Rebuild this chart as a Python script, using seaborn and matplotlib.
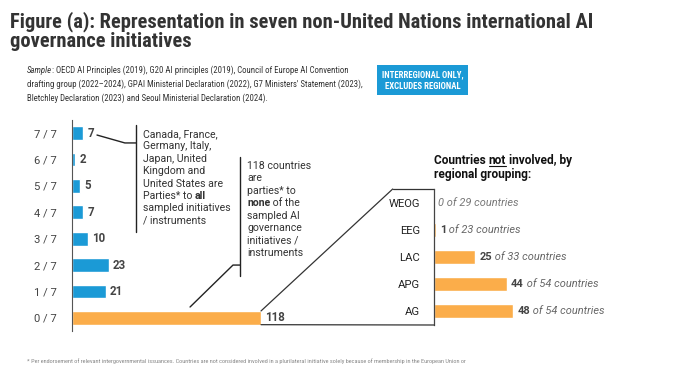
import numpy as np
import matplotlib
matplotlib.use("Agg")
import matplotlib.pyplot as plt
from matplotlib.patches import Rectangle, ConnectionPatch
from matplotlib.lines import Line2D
import seaborn as sns

# ---- data ----
levels = ["7 / 7", "6 / 7", "5 / 7", "4 / 7", "3 / 7", "2 / 7", "1 / 7", "0 / 7"]
counts = [7, 2, 5, 7, 10, 23, 21, 118]
groups = ["WEOG", "EEG", "LAC", "APG", "AG"]
not_involved = [0, 1, 25, 44, 48]
group_totals = [29, 23, 33, 54, 54]

BLUE = "#1b9ad6"
ORANGE = "#fbad4a"
DARK = "#333333"

W, H = 696, 365


def fx(px):
    return px / W


def fy(py):
    return 1 - py / H


sns.set_style("white")
BODY = "Roboto"
NARROW = "Roboto Condensed"
plt.rcParams["font.family"] = [BODY, "DejaVu Sans"]

fig = plt.figure(figsize=(W / 100, H / 100), dpi=100)

# ---- left chart: number of initiatives per country ----
ax = fig.add_axes([fx(72), fy(331), fx(434) - fx(72), fy(120) - fy(331)])
hue = ["none" if lv == "0 / 7" else "some" for lv in levels]
sns.barplot(x=counts, y=levels, hue=hue, palette={"some": BLUE, "none": ORANGE},
            orient="h", width=0.52, legend=False, ax=ax, saturation=1)
ax.set_xlim(0, 226)
ax.set_ylim(len(levels) - 0.5, -0.5)
ax.set_xlabel("")
ax.set_ylabel("")
ax.set_xticks([])
for s in ["top", "right", "bottom"]:
    ax.spines[s].set_visible(False)
ax.spines["left"].set_color("#555555")
ax.spines["left"].set_linewidth(0.8)
ax.set_yticks(range(len(levels)))
ax.set_yticklabels(levels, fontsize=8.1, color="#444444")
ax.tick_params(axis="y", length=0, pad=11)
ax.set_yticks(np.arange(-0.5, len(levels)), minor=True)
ax.tick_params(axis="y", which="minor", length=3, color="#555555", width=0.8)

for i, v in enumerate(counts):
    ax.text(v + 2.5, i, str(v), va="center", ha="left", fontsize=8.3,
            fontweight="bold", color="#444444")


def rich_block(x_px, y_px, lines, step, **kw):
    """Draw lines of (text, weight[, style]) pieces with a fixed baseline step in px."""
    out = []
    for k, pieces in enumerate(lines):
        prev = None
        for piece in pieces:
            txt, weight = piece[0], piece[1]
            style = piece[2] if len(piece) > 2 else "normal"
            if prev is None:
                prev = fig.text(fx(x_px), fy(y_px + k * step), txt, va="baseline",
                                ha="left", fontweight=weight, style=style, **kw)
            else:
                prev = ax.annotate(txt, xy=(1, 0), xycoords=prev, va="bottom",
                                   ha="left", fontweight=weight, style=style,
                                   annotation_clip=False, **kw)
            out.append(prev)
    return out


N, B = "normal", "bold"
note_kw = dict(fontsize=7.6, color=DARK)

# annotation: all seven
rich_block(143, 137, [
    [("Canada, France,", N)], [("Germany, Italy,", N)], [("Japan, United", N)],
    [("Kingdom and", N)], [("United States are", N)],
    [("Parties* to ", N), ("all", B)], [("sampled initiatives", N)],
    [("/ instruments", N)]], 12.4, **note_kw)
ax.plot([40, 40], [-0.31, 3.75], color="#222222", lw=1, clip_on=False)
ax.plot([15.6, 33, 40], [0.07, 0.37, 0.37], color="#222222", lw=1, clip_on=False)

# annotation: none
rich_block(247, 169, [
    [("118 countries", N)], [("are", N)], [("parties* to", N)],
    [("none", B), (" of the", N)], [("sampled AI", N)], [("governance", N)],
    [("initiatives /", N)], [("instruments", N)]], 12.4, **note_kw)
ax.plot([105, 105], [0.9, 5.41], color="#222222", lw=1, clip_on=False)
ax.plot([73.7, 100.5, 105], [6.59, 5.0, 5.0], color="#222222", lw=1, clip_on=False)

# ---- right chart: countries not involved, by regional group ----
ax2 = fig.add_axes([fx(434), fy(325), fx(690) - fx(434), fy(189) - fy(325)])
sns.barplot(x=not_involved, y=groups, color=ORANGE, orient="h", width=0.52,
            ax=ax2, saturation=1)
ax2.set_xlim(0, 155)
ax2.set_ylim(len(groups) - 0.5, -0.5)
ax2.set_xlabel("")
ax2.set_ylabel("")
ax2.set_xticks([])
for s in ["top", "right", "bottom"]:
    ax2.spines[s].set_visible(False)
ax2.spines["left"].set_color("#444444")
ax2.spines["left"].set_linewidth(0.9)
ax2.set_yticks(range(len(groups)))
ax2.set_yticklabels(groups, fontsize=8.1, color="#222222")
ax2.tick_params(axis="y", length=0, pad=10)
ax2.set_yticks(np.arange(0.5, len(groups) - 1), minor=True)
ax2.tick_params(axis="y", which="minor", length=2.5, color="#555555", width=0.8)

for i, (v, tot) in enumerate(zip(not_involved, group_totals)):
    if v == 0:
        ax2.text(v + 2.5, i, f"{v} of {tot} countries", va="center", ha="left",
                 fontsize=7.9, style="italic", color="#777777")
        continue
    t = ax2.text(v + 2.5, i, str(v), va="center", ha="left", fontsize=7.9,
                 fontweight="bold", color="#444444")
    ax2.annotate(f" of {tot} countries", xy=(1, 0.5), xycoords=t, va="center",
                 ha="left", fontsize=7.9, style="italic", color="#666666")

# trapezoid linking the 0/7 bar to the regional breakdown
bar_top = len(levels) - 1 - 0.26
bar_bot = len(levels) - 1 + 0.26
for (ya, xb, yb) in [(bar_top, -25, -0.5), (bar_bot, 0, len(groups) - 0.5)]:
    con = ConnectionPatch(xyA=(counts[-1], ya), coordsA=ax.transData,
                          xyB=(xb, yb), coordsB=ax2.transData,
                          color="#333333", lw=0.9)
    fig.add_artist(con)
ax2.plot([-25, 0], [-0.5, -0.5], color="#333333", lw=0.9, clip_on=False)

# right chart heading with underlined "not"
head = rich_block(434, 164, [
    [("Countries ", B), ("not", B), (" involved, by", B)],
    [("regional grouping:", B)]], 14, fontsize=8.6, color="#111111")

# ---- titles ----
fig.text(fx(10), fy(11),
         "Figure (a): Representation in seven non-United Nations international AI\n"
         "governance initiatives",
         va="top", ha="left", fontsize=14.8, fontweight="bold", color=DARK,
         family=NARROW, linespacing=1.0)
rich_block(27, 73, [
    [("Sample", N, "italic"),
     (": OECD AI Principles (2019), G20 AI principles (2019), "
      "Council of Europe AI Convention", N)],
    [("drafting group (2022–2024), GPAI Ministerial Declaration (2022), "
      "G7 Ministers' Statement (2023),", N)],
    [("Bletchley Declaration (2023) and Seoul Ministerial Declaration (2024).", N)]],
    14, fontsize=6.3, color=DARK, family=NARROW)

fig.add_artist(Rectangle((fx(377), fy(95)), fx(468) - fx(377), fy(65) - fy(95),
                         transform=fig.transFigure, color=BLUE, lw=0))
fig.text(fx(422.5), fy(80.5), "INTERREGIONAL ONLY,\nEXCLUDES REGIONAL",
         va="center", ha="center", fontsize=6.3, fontweight="bold",
         color="white", family=NARROW, linespacing=1.3)

fig.text(fx(27), fy(358.5),
         "* Per endorsement of relevant intergovernmental issuances. Countries are "
         "not considered involved in a plurilateral initiative solely because of "
         "membership in the European Union or",
         va="top", ha="left", fontsize=4.5, color="#888888", family=NARROW)

# underline "not" once the heading is laid out
fig.canvas.draw()
r = fig.canvas.get_renderer()
inv = fig.transFigure.inverted()
bn = head[1].get_window_extent(r)
ul_y = fig.transFigure.transform((0, fy(164)))[1] - 2
p0 = inv.transform((bn.x0, ul_y))
p1 = inv.transform((bn.x1, ul_y))
fig.add_artist(Line2D([p0[0], p1[0]], [p0[1], p1[1]], transform=fig.transFigure,
                      color="#111111", lw=0.8))

fig.savefig("out.png", dpi=100)
